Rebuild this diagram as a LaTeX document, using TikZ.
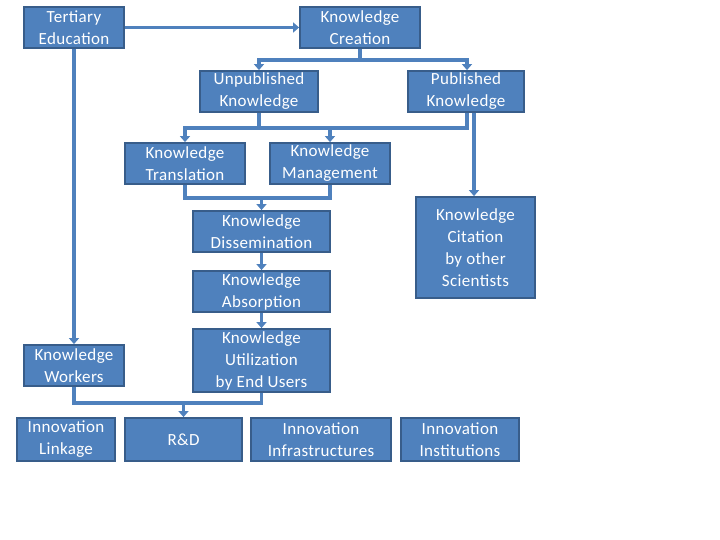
\documentclass[tikz,border=0pt]{standalone}
\usepackage{fontspec}
\setmainfont[LetterSpace=2]{Carlito}
\usetikzlibrary{arrows.meta}
\definecolor{boxblue}{HTML}{4F81BD}
\definecolor{boxedge}{HTML}{385D8A}

\begin{document}
\begin{tikzpicture}[x=1pt,y=-1pt,>={Triangle[width=10pt,length=6pt]},
  box/.style={rectangle,draw=boxedge,line width=1.8pt,fill=boxblue,text=white,
    align=center,inner sep=0pt,font=\fontsize{17}{22}\selectfont},
  link/.style={draw=boxblue,line width=3.5pt},
  arr/.style={link,->}]
  \useasboundingbox (0,0) rectangle (720,540);
  % boxes
  \node[box,minimum width=100pt,minimum height=41pt] (tert) at (74,27.5) {Tertiary\\Education};
  \node[box,minimum width=120pt,minimum height=41pt] (kcre) at (360,27.5) {Knowledge\\Creation};
  \node[box,minimum width=118pt,minimum height=41pt] (unpub) at (259,91.5) {Unpublished\\Knowledge};
  \node[box,minimum width=116pt,minimum height=41pt] (pub) at (466,91.5) {Published\\Knowledge};
  \node[box,minimum width=120pt,minimum height=41pt] (trans) at (185,163.5) {Knowledge\\Translation};
  \node[box,minimum width=120pt,minimum height=41pt] (mgmt) at (330,163.5) {Knowledge\\Management};
  \node[box,minimum width=137pt,minimum height=41pt] (diss) at (261.5,231.5) {Knowledge\\Dissemination};
  \node[box,minimum width=137pt,minimum height=41pt] (absorp) at (261.5,291.5) {Knowledge\\Absorption};
  \node[box,minimum width=137pt,minimum height=63pt] (util) at (261.5,360.5) {Knowledge\\Utilization\\by End Users};
  \node[box,minimum width=119pt,minimum height=101pt] (cite) at (475.5,247.5) {Knowledge\\Citation\\by other\\Scientists};
  \node[box,minimum width=100pt,minimum height=41pt] (workers) at (74,365.5) {Knowledge\\Workers};
  \node[box,minimum width=98pt,minimum height=43pt] (linkage) at (66,439.5) {Innovation\\Linkage};
  \node[box,minimum width=117pt,minimum height=43pt] (rnd) at (183.5,439.5) {R\&D};
  \node[box,minimum width=140pt,minimum height=43pt] (infra) at (321,439.5) {Innovation\\Infrastructures};
  \node[box,minimum width=118pt,minimum height=43pt] (inst) at (460,439.5) {Innovation\\Institutions};
  % junctions
  \coordinate (j1) at (360,60);
  \coordinate (j2) at (259,128);
  \coordinate (j3) at (261.5,198);
  \coordinate (j4) at (183.5,403);
  % connectors
  \draw[arr] (tert) -- (kcre);
  \draw[arr] (tert) -- (workers);
  \draw[link] (kcre.south) -- (j1);
  \draw[arr] (j1) -| (unpub.north);
  \draw[arr] (j1) -| ([xshift=1pt]pub.north);
  \draw[link] (unpub.south) -- (j2);
  \draw[link] ([xshift=1pt]pub.south) |- (j2);
  \draw[arr] (j2) -| (trans.north);
  \draw[arr] (j2) -| (mgmt.north);
  \draw[arr] ([xshift=8pt]pub.south) -- ([xshift=8pt]pub.south |- cite.north);
  \draw[link] (trans.south) |- (j3);
  \draw[link] (mgmt.south) |- (j3);
  \draw[arr] (j3) -- (diss.north);
  \draw[arr] (diss) -- (absorp);
  \draw[arr] (absorp) -- (util);
  \draw[link] (util.south) |- (j4);
  \draw[link] (workers.south) |- (j4);
  \draw[arr] (j4) -- (rnd.north);
\end{tikzpicture}
\end{document}
